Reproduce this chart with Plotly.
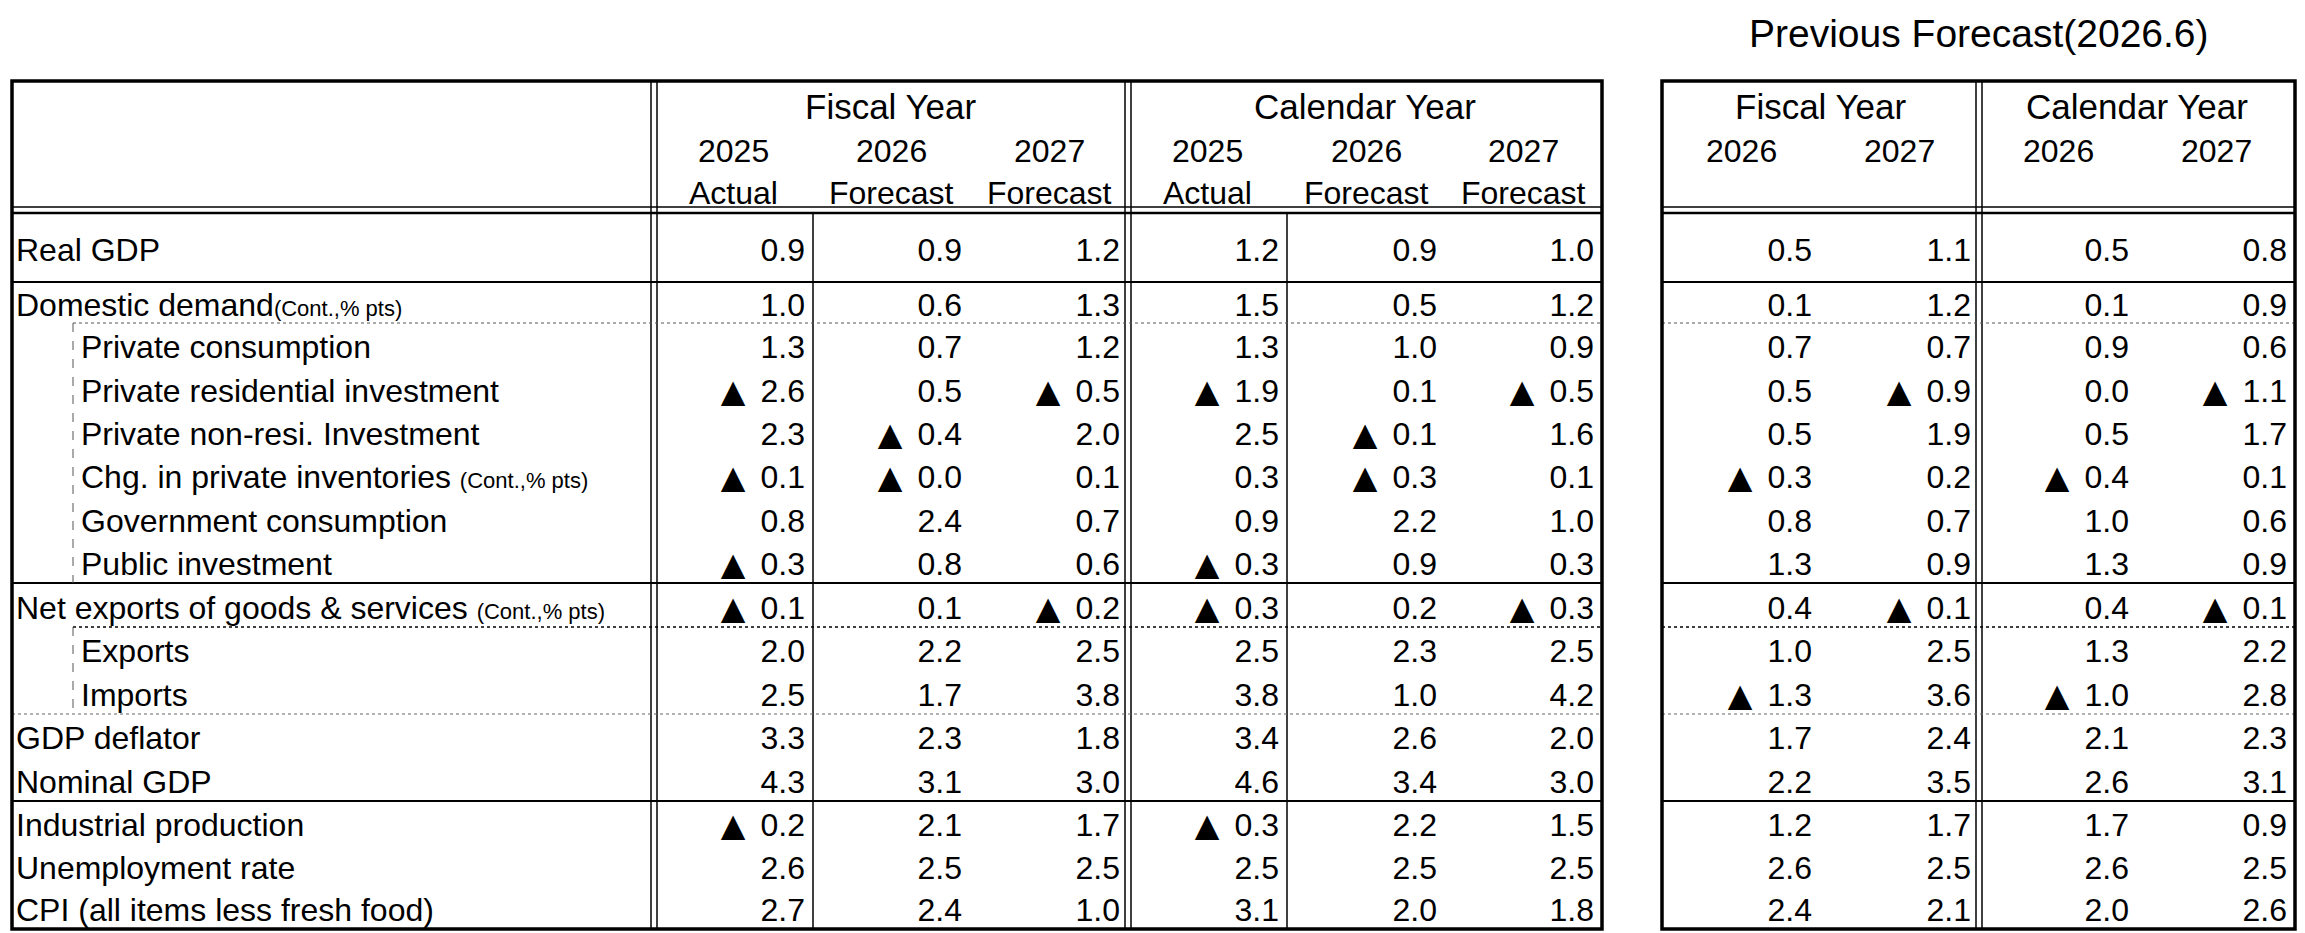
import math
import numpy as np
import plotly.graph_objects as go

# ---------------------------------------------------------------------------
# Data (negative values are shown with a black triangle, Japanese style)
# ---------------------------------------------------------------------------
row_labels = [
    "Real GDP",
    "Domestic demand(Cont.,% pts)",
    "Private consumption",
    "Private residential investment",
    "Private non-resi. Investment",
    "Chg. in private inventories (Cont.,% pts)",
    "Government consumption",
    "Public investment",
    "Net exports of goods & services (Cont.,% pts)",
    "Exports",
    "Imports",
    "GDP deflator",
    "Nominal GDP",
    "Industrial production",
    "Unemployment rate",
    "CPI (all items less fresh food)",
]
indented = [False, False, True, True, True, True, True, True,
            False, True, True, False, False, False, False, False]

fy2025_actual = [0.9, 1.0, 1.3, -2.6, 2.3, -0.1, 0.8, -0.3, -0.1, 2.0, 2.5, 3.3, 4.3, -0.2, 2.6, 2.7]
fy2026_fcst = [0.9, 0.6, 0.7, 0.5, -0.4, -0.0, 2.4, 0.8, 0.1, 2.2, 1.7, 2.3, 3.1, 2.1, 2.5, 2.4]
fy2027_fcst = [1.2, 1.3, 1.2, -0.5, 2.0, 0.1, 0.7, 0.6, -0.2, 2.5, 3.8, 1.8, 3.0, 1.7, 2.5, 1.0]
cy2025_actual = [1.2, 1.5, 1.3, -1.9, 2.5, 0.3, 0.9, -0.3, -0.3, 2.5, 3.8, 3.4, 4.6, -0.3, 2.5, 3.1]
cy2026_fcst = [0.9, 0.5, 1.0, 0.1, -0.1, -0.3, 2.2, 0.9, 0.2, 2.3, 1.0, 2.6, 3.4, 2.2, 2.5, 2.0]
cy2027_fcst = [1.0, 1.2, 0.9, -0.5, 1.6, 0.1, 1.0, 0.3, -0.3, 2.5, 4.2, 2.0, 3.0, 1.5, 2.5, 1.8]

prev_fy2026 = [0.5, 0.1, 0.7, 0.5, 0.5, -0.3, 0.8, 1.3, 0.4, 1.0, -1.3, 1.7, 2.2, 1.2, 2.6, 2.4]
prev_fy2027 = [1.1, 1.2, 0.7, -0.9, 1.9, 0.2, 0.7, 0.9, -0.1, 2.5, 3.6, 2.4, 3.5, 1.7, 2.5, 2.1]
prev_cy2026 = [0.5, 0.1, 0.9, 0.0, 0.5, -0.4, 1.0, 1.3, 0.4, 1.3, -1.0, 2.1, 2.6, 1.7, 2.6, 2.0]
prev_cy2027 = [0.8, 0.9, 0.6, -1.1, 1.7, 0.1, 0.6, 0.9, -0.1, 2.2, 2.8, 2.3, 3.1, 0.9, 2.5, 2.6]

main_years = ["2025", "2026", "2027"]
main_kinds = ["Actual", "Forecast", "Forecast"]
prev_years = ["2026", "2027"]
prev_title = "Previous Forecast(2026.6)"

# ---------------------------------------------------------------------------
# Layout geometry (pixels, y grows downward)
# ---------------------------------------------------------------------------
W, H = 2305, 933
FONT = "Liberation Sans, Arial, sans-serif"
TRI_FONT = "DejaVu Sans"
FS = 32
SMALL = 22

top, bottom = 81, 929
left_x0, label_x1, fycy_x, left_x1 = 12, 654, 1128, 1602
right_x0, right_mid, right_x1 = 1662, 1979, 2295
head_y = 210
main_edges = [813, 970, 1128, 1287, 1445, 1602]
prev_edges = [1820, 1979, 2137, 2295]

edges = ([213, 282]
         + list(np.linspace(323, 583, 7))
         + [627]
         + list(np.linspace(627, 714, 3))[1:]
         + list(np.linspace(714, 801, 3))[1:]
         + list(np.linspace(801, 929, 4))[1:])
centers = [(a + b) / 2 + 5.5 for a, b in zip(edges[:-1], edges[1:])]


def is_neg(v):
    return math.copysign(1.0, v) < 0


def fmt_label(s):
    return s.replace("(Cont.,% pts)",
                     f"<span style='font-size:{SMALL}px'>(Cont.,% pts)</span>")


fig = go.Figure()

# row labels
fig.add_trace(go.Scatter(
    x=[81 if ind else 16 for ind in indented], y=centers,
    mode="text", text=[fmt_label(s) for s in row_labels],
    textposition="middle right", hoverinfo="skip",
    textfont=dict(family=FONT, size=FS, color="black"),
))

main_cols = [fy2025_actual, fy2026_fcst, fy2027_fcst,
             cy2025_actual, cy2026_fcst, cy2027_fcst]
prev_cols = [prev_fy2026, prev_fy2027, prev_cy2026, prev_cy2027]
cols = list(zip(main_cols, main_edges)) + list(zip(prev_cols, prev_edges))

for col, xr in cols:
    fig.add_trace(go.Scatter(
        x=[xr - 8] * len(col), y=centers, mode="text",
        text=[f"{abs(v):.1f}" for v in col], textposition="middle left",
        hoverinfo="skip", textfont=dict(family=FONT, size=FS, color="black"),
    ))
    # black triangle in front of negative numbers
    neg_y = [y for v, y in zip(col, centers) if is_neg(v)]
    fig.add_trace(go.Scatter(
        x=[xr - 80] * len(neg_y), y=neg_y, mode="text",
        text=["▲"] * len(neg_y), textposition="middle center",
        hoverinfo="skip", textfont=dict(family=TRI_FONT, size=FS, color="black"),
    ))

# ---------------------------------------------------------------------------
# Grid lines
# ---------------------------------------------------------------------------
shapes = []


def hline(y, x0, x1, w=2, dash="solid", color="black"):
    shapes.append(dict(type="line", x0=x0, x1=x1, y0=y, y1=y, layer="below",
                       line=dict(color=color, width=w, dash=dash)))


def vline(x, y0, y1, w=2, dash="solid", color="black"):
    shapes.append(dict(type="line", x0=x, x1=x, y0=y0, y1=y1, layer="below",
                       line=dict(color=color, width=w, dash=dash)))


for x0, x1 in [(left_x0, left_x1), (right_x0, right_x1)]:
    shapes.append(dict(type="rect", x0=x0, x1=x1, y0=top, y1=bottom,
                       line=dict(color="black", width=3.5)))
    hline(head_y - 3, x0, x1, w=1.5)
    hline(head_y + 3, x0, x1, w=2.5)
    hline(282, x0, x1, w=2)
    hline(583, x0, x1, w=2)
    hline(801, x0, x1, w=2)

# double verticals
for xc in [label_x1, fycy_x, right_mid]:
    vline(xc - 3, top, bottom, w=1.5)
    vline(xc + 3, top, bottom, w=1.5)

# single verticals inside the main table
for xc in [813, 1287]:
    vline(xc, head_y + 3, bottom, w=1.5)

# dotted separators
hline(323, 73, left_x1, w=1, dash="dot", color="#555555")
hline(323, right_x0, right_x1, w=1, dash="dot", color="#555555")
hline(627, 73, left_x1, w=1.5, dash="dot")
hline(627, right_x0, right_x1, w=1.5, dash="dot")
hline(714, left_x0, left_x1, w=1, dash="dot", color="#666666")
hline(714, right_x0, right_x1, w=1, dash="dot", color="#666666")
vline(73, 323, 583, w=1, dash="dash", color="#555555")
vline(73, 627, 714, w=1, dash="dash", color="#555555")

# ---------------------------------------------------------------------------
# Headers
# ---------------------------------------------------------------------------
ann = []


def text(x, y, s, size=FS):
    ann.append(dict(x=x, y=y, text=s, showarrow=False, xanchor="center",
                    yanchor="middle", font=dict(family=FONT, size=size, color="black")))


text((label_x1 + fycy_x) / 2, 106, "Fiscal Year", size=35)
text((fycy_x + left_x1) / 2, 106, "Calendar Year", size=35)
col_starts = [label_x1] + main_edges[:-1]
for i, (a, b) in enumerate(zip(col_starts, main_edges)):
    text((a + b) / 2, 151, main_years[i % 3])
    text((a + b) / 2, 193, main_kinds[i % 3])

text((right_x0 + right_mid) / 2, 106, "Fiscal Year", size=35)
text((right_mid + right_x1) / 2, 106, "Calendar Year", size=35)
prev_starts = [right_x0] + prev_edges[:-1]
for i, (a, b) in enumerate(zip(prev_starts, prev_edges)):
    text((a + b) / 2, 151, prev_years[i % 2])

text((right_x0 + right_x1) / 2, 33, prev_title, size=39)

fig.update_layout(
    width=W, height=H,
    margin=dict(l=0, r=0, t=0, b=0),
    paper_bgcolor="white", plot_bgcolor="white",
    showlegend=False,
    shapes=shapes, annotations=ann,
    xaxis=dict(range=[0, W], visible=False, fixedrange=True),
    yaxis=dict(range=[H, 0], visible=False, fixedrange=True),
)

# the page has a default 8px body margin; drop it so the figure fills the window
fig.write_html("out.html", config={"displayModeBar": False},
               post_script="document.body.style.margin='0';")
